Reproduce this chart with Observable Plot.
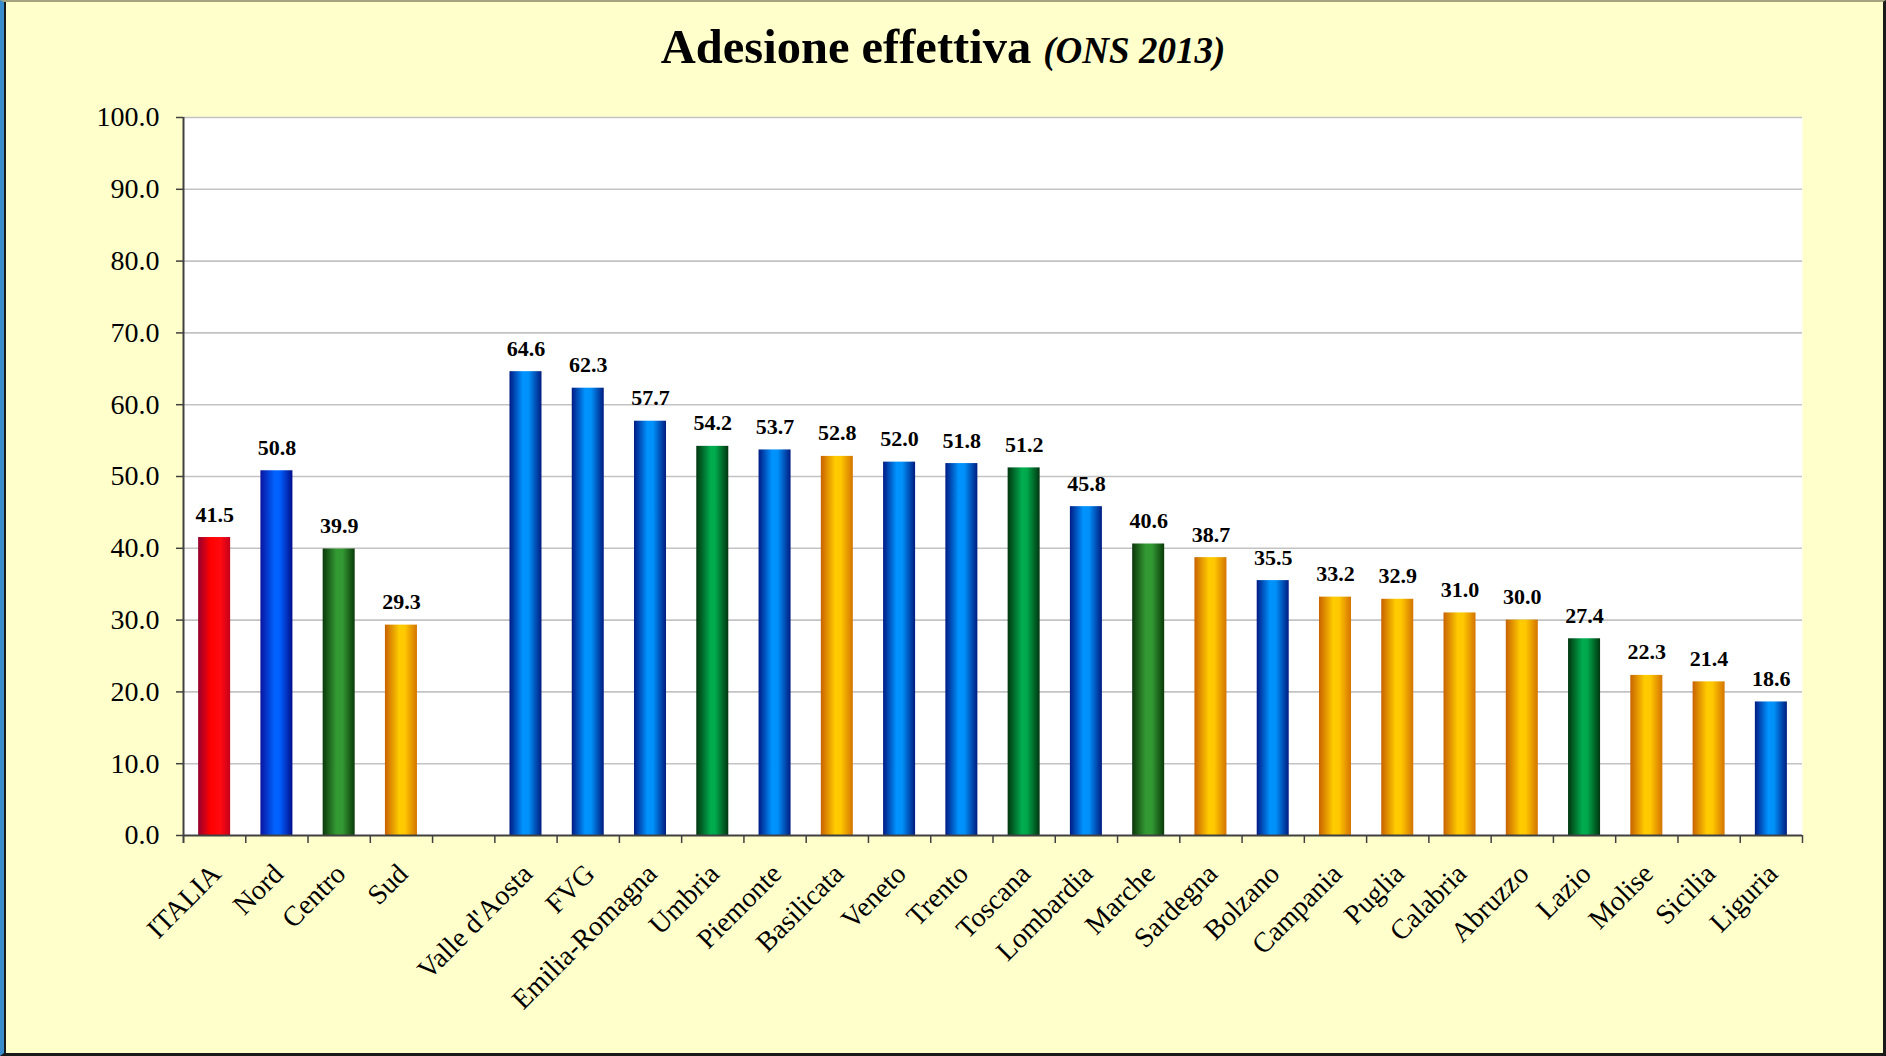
<!DOCTYPE html>
<html>
<head>
<meta charset="utf-8">
<script src="https://cdn.jsdelivr.net/npm/d3@7"></script>
<script src="https://cdn.jsdelivr.net/npm/@observablehq/plot@0.6"></script>
<style>
  html, body { margin: 0; padding: 0; background: #FFFFCC; overflow: hidden; }
  #wrap { position: relative; width: 1886px; height: 1056px; background: #FFFFCC; }
  #title { position: absolute; left: 0; top: 23px; width: 1886px; text-align: center;
           font-family: "Liberation Serif", "Times New Roman", serif; font-weight: bold;
           font-size: 48.5px; line-height: 1; color: #000; }
  #title i { font-size: 37px; }
  #border { position: absolute; left: 0; top: 0; width: 1886px; height: 1056px; box-sizing: border-box;
            border-top: 2px solid #a3a37e; border-right: 3px solid #1a1a1a; border-bottom: 3px solid #1a1a1a;
            border-left: 4px solid #3a8dcc; box-shadow: inset 2px 0 0 #1a1a1a; pointer-events: none; }
  #chart { position: absolute; left: 0; top: 0; }
</style>
</head>
<body>
<div id="wrap">
  <div id="chart"></div>
  <div id="title">Adesione effettiva <i>(ONS 2013)</i></div>
  <div id="border"></div>
</div>
<script>
// ---- data ----
const categories = ["ITALIA","Nord","Centro","Sud"," ","Valle d'Aosta","FVG","Emilia-Romagna","Umbria","Piemonte","Basilicata","Veneto","Trento","Toscana","Lombardia","Marche","Sardegna","Bolzano","Campania","Puglia","Calabria","Abruzzo","Lazio","Molise","Sicilia","Liguria"];
const values = [41.5,50.8,39.9,29.3,null,64.6,62.3,57.7,54.2,53.7,52.8,52.0,51.8,51.2,45.8,40.6,38.7,35.5,33.2,32.9,31.0,30.0,27.4,22.3,21.4,18.6];
const groups = ["italia","nord","centro","sud",null,"nordReg","nordReg","nordReg","centroReg","nordReg","sud","nordReg","nordReg","centroReg","nordReg","centro","sud","nordReg","sud","sud","sud","sud","centroReg","sud","sud","nordReg"];
const yTicks = [0,10,20,30,40,50,60,70,80,90,100];

// ---- styles (kept separate from data) ----
const gradients = {
  italia:    [[0,"#940030"],[0.38,"#ff0000"],[0.7,"#ff0a10"],[1,"#c4001c"]],
  nord:      [[0,"#0a14a0"],[0.45,"#0064ff"],[0.6,"#0060ff"],[1,"#000e8c"]],
  centro:    [[0,"#0b380b"],[0.42,"#339933"],[0.62,"#339933"],[1,"#0a3a0a"]],
  sud:       [[0,"#c86200"],[0.45,"#ffcc00"],[0.62,"#ffc800"],[1,"#d47400"]],
  nordReg:   [[0,"#001a84"],[0.42,"#0094ff"],[0.6,"#0090f8"],[1,"#001c80"]],
  centroReg: [[0,"#00360f"],[0.45,"#00ad4f"],[0.6,"#00a84c"],[1,"#00360f"]]
};

const data = categories.map((c, i) => ({category: c, value: values[i], group: groups[i]}));
const bars = data.filter(d => d.value != null);

const W = 1886, H = 1056;
const mL = 183, mR = 84, mT = 117, mB = 221;
const step = (W - mL - mR) / categories.length;
const axisColor = "#404040";
const font = "'Liberation Serif', 'Times New Roman', serif";

const svg = Plot.plot({
  width: W, height: H,
  marginLeft: mL, marginRight: mR, marginTop: mT, marginBottom: mB,
  style: {fontFamily: font, background: "transparent", color: "#000", overflow: "visible"},
  x: {domain: categories, paddingInner: 0.486, paddingOuter: 0.243, round: false, axis: null},
  y: {domain: [0, 100], label: null},
  color: {type: "identity"},
  marks: [
    Plot.frame({fill: "white", stroke: "none"}),
    Plot.ruleY(yTicks.filter(t => t > 0), {stroke: "#c3c3c3", strokeWidth: 1.6}),
    Plot.barY(bars, {x: "category", y: "value", fill: d => `url(#grad-${d.group})`}),
    Plot.text(bars, {x: "category", y: "value", text: d => d3.format(".1f")(d.value),
      dy: -16, lineAnchor: "bottom", fontWeight: "bold", fontSize: 22, fill: "#000"}),
    Plot.axisY({ticks: yTicks, tickFormat: d3.format(".1f"), tickSize: 7, tickPadding: 17,
      fontSize: 28, fill: "#000", stroke: axisColor, strokeWidth: 1.5, label: null}),
    Plot.ruleY([0], {stroke: axisColor, strokeWidth: 2}),
    Plot.ruleX([categories[0]], {x: d => d, y1: 100, y2: 0, dx: -step / 2, insetBottom: -8, stroke: axisColor, strokeWidth: 2}),
    Plot.ruleX(categories.slice(1), {x: d => d, y1: 0, y2: 0, dx: -step / 2, insetBottom: -8, stroke: axisColor, strokeWidth: 1.5}),
    Plot.ruleX([categories[categories.length - 1]], {x: d => d, y1: 0, y2: 0, dx: step / 2, insetBottom: -8, stroke: axisColor, strokeWidth: 1.5}),
    Plot.text(data, {x: "category", frameAnchor: "bottom", text: "category", rotate: -45,
      textAnchor: "end", lineAnchor: "bottom", dx: 8, dy: 40, fontSize: 28, fill: "#000"})
  ]
});

// gradient definitions for the cylinder-like bars
const defs = d3.select(svg).insert("defs", ":first-child");
for (const [key, stops] of Object.entries(gradients)) {
  const g = defs.append("linearGradient").attr("id", `grad-${key}`)
    .attr("x1", "0").attr("x2", "1").attr("y1", "0").attr("y2", "0");
  for (const [o, c] of stops) g.append("stop").attr("offset", o).attr("stop-color", c);
}

document.getElementById("chart").appendChild(svg);
</script>
</body>
</html>
